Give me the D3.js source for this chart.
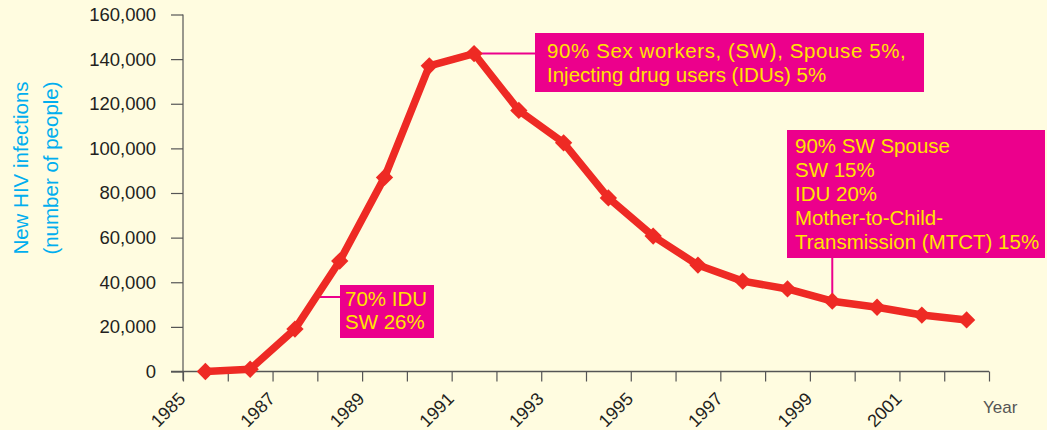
<!DOCTYPE html>
<html>
<head>
<meta charset="utf-8">
<script src="https://cdn.jsdelivr.net/npm/d3@7"></script>
<style>
  html, body { margin: 0; padding: 0; background: #fffce0; }
  svg { display: block; }
  svg text { font-family: "Liberation Sans", Arial, sans-serif; }
</style>
</head>
<body>
<div id="chart"></div>
<script>
// years (each value sits in the middle of its year)
const years = [1985, 1986, 1987, 1988, 1989, 1990, 1991, 1992, 1993, 1994,
               1995, 1996, 1997, 1998, 1999, 2000, 2001, 2002];
const infections = [0, 1000, 19000, 49500, 87000, 137000, 142500, 117000, 102500, 77800,
                    60700, 47700, 40500, 37000, 31500, 28800, 25300, 23100];
const yTicks = [0, 20000, 40000, 60000, 80000, 100000, 120000, 140000, 160000];
const xTicks = d3.range(1985, 2004);

const notes = [
  { year: 1991, lines: ["90% Sex workers, (SW), Spouse 5%,", "Injecting drug users (IDUs) 5%"] },
  { year: 1999, lines: ["90% SW Spouse", "SW 15%", "IDU 20%", "Mother-to-Child-", "Transmission (MTCT) 15%"] },
  { year: 1987, lines: ["70% IDU", "SW 26%"] }
];

const width = 1047, height = 430;
const margin = { top: 14.5, right: 58, bottom: 58.5, left: 183 };

const svg = d3.select("#chart").append("svg")
  .attr("width", width)
  .attr("height", height);

svg.append("rect").attr("width", width).attr("height", height).attr("fill", "#fffce0");

const x = d3.scaleLinear().domain([1985, 2003]).range([margin.left, width - margin.right]);
const y = d3.scaleLinear().domain([0, 160000]).range([height - margin.bottom, margin.top]);

const data = years.map((yr, i) => ({ year: yr, value: infections[i] }));

// axes
const axisColor = "#555";
const yAxis = svg.append("g")
  .attr("transform", `translate(${margin.left},0)`)
  .call(d3.axisLeft(y).tickValues(yTicks).tickFormat(d3.format(",")).tickSize(12).tickPadding(15).tickSizeOuter(0));
yAxis.select(".domain").remove();
yAxis.append("line")
  .attr("x1", 0).attr("x2", 0)
  .attr("y1", y(160000)).attr("y2", y(0) + 9)
  .attr("stroke", axisColor).attr("stroke-width", 1.2);

const xAxis = svg.append("g")
  .attr("transform", `translate(0,${y(0)})`)
  .call(d3.axisBottom(x).tickValues(xTicks)
    .tickFormat(d => (d % 2 === 1 && d < 2003) ? d : "")
    .tickSize(10).tickSizeOuter(0));
xAxis.select(".domain").remove();
xAxis.append("line")
  .attr("x1", margin.left - 12).attr("x2", x(2003))
  .attr("stroke", axisColor).attr("stroke-width", 1.6);

svg.selectAll(".tick line").attr("stroke", axisColor).attr("stroke-width", 1.2);
yAxis.selectAll(".tick text").attr("fill", "#231f20").attr("font-size", 18.5)
  .attr("font-family", "Liberation Sans, Arial, sans-serif");

xAxis.selectAll(".tick text")
  .attr("fill", "#231f20").attr("font-size", 18)
  .attr("font-family", "Liberation Sans, Arial, sans-serif")
  .attr("text-anchor", "end")
  .attr("transform", "translate(3,28.5) rotate(-45)")
  .attr("dy", null)
  .attr("y", 0)
  .attr("x", 0);

svg.append("text")
  .attr("x", 983).attr("y", 413)
  .attr("fill", "#555").attr("font-size", 17)
  .text("Year");

// y title
const title = svg.append("text")
  .attr("transform", `translate(0,${(y(0) + y(160000)) / 2 - 25}) rotate(-90)`)
  .attr("text-anchor", "middle")
  .attr("fill", "#00aeef")
  .attr("font-size", 20.5);
title.append("tspan").attr("x", 0).attr("y", 28).text("New HIV infections");
title.append("tspan").attr("x", 0).attr("y", 58).text("(number of people)");

// annotations (leader lines below the series)
const pink = "#ec008c", yellow = "#ffe400";
const lineLayer = svg.append("g");
const boxLayer = svg.append("g");

function drawNote(note, box, leader) {
  const g = boxLayer.append("g");
  g.append("rect")
    .attr("x", box.x).attr("y", box.y)
    .attr("width", box.w).attr("height", box.h)
    .attr("fill", pink);
  g.append("text")
    .attr("fill", yellow).attr("font-size", 20.5)
    .selectAll("tspan").data(note.lines).join("tspan")
      .attr("x", box.x + box.pad)
      .attr("y", (d, i) => box.y + box.first + i * box.lh)
      .attr("letter-spacing", (d, i) => (box.spread && i === 0) ? box.spread : null)
      .text(d => d);
  lineLayer.append("line")
    .attr("x1", leader.x1).attr("y1", leader.y1)
    .attr("x2", leader.x2).attr("y2", leader.y2)
    .attr("stroke", pink).attr("stroke-width", 2);
}

// 1991 peak note
{
  const d = data[years.indexOf(notes[0].year)];
  const px = x(d.year + 0.5), py = y(d.value);
  drawNote(notes[0], { x: 535, y: 33, w: 389, h: 59, pad: 12, first: 25, lh: 23.5, spread: 0.6 },
    { x1: px, y1: py, x2: 535, y2: py });
}
// 1999 note
{
  const d = data[years.indexOf(notes[1].year)];
  const px = x(d.year + 0.5), py = y(d.value);
  drawNote(notes[1], { x: 787, y: 130, w: 258, h: 128, pad: 8, first: 22.5, lh: 24 },
    { x1: px, y1: py, x2: px, y2: 258 });
}
// 1987-88 note: leader touches the rising segment
{
  const py = 297;
  const v = y.invert(py);
  const a = data[years.indexOf(notes[2].year)], b = data[years.indexOf(notes[2].year) + 1];
  const t = (v - a.value) / (b.value - a.value);
  const px = x(a.year + 0.5 + t);
  drawNote(notes[2], { x: 340, y: 285, w: 94, h: 53, pad: 5, first: 21, lh: 23.3 },
    { x1: px, y1: py, x2: 340, y2: py });
}

// series
const red = "#ee2a24";
svg.append("path")
  .datum(data)
  .attr("fill", "none")
  .attr("stroke", red)
  .attr("stroke-width", 7.5)
  .attr("stroke-linejoin", "round")
  .attr("d", d3.line().x(d => x(d.year + 0.5)).y(d => y(d.value)));

svg.append("g").selectAll("path")
  .data(data).join("path")
  .attr("transform", d => `translate(${x(d.year + 0.5)},${y(d.value)}) rotate(45)`)
  .attr("d", d3.symbol(d3.symbolSquare, 150))
  .attr("fill", red);

svg.node().appendChild(boxLayer.node());
</script>
</body>
</html>
